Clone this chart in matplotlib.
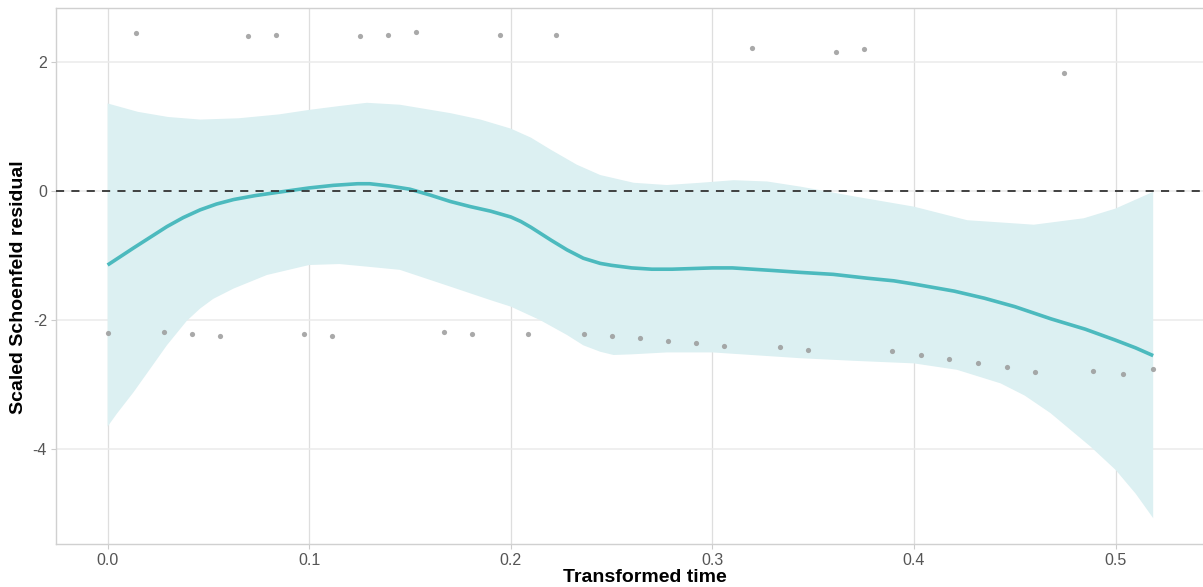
import matplotlib
matplotlib.use("Agg")
import matplotlib.pyplot as plt
import numpy as np

plt.rcParams['font.family'] = ['Liberation Sans', 'DejaVu Sans']

# residual points
pt_x = [0.0, 0.0140, 0.0278, 0.0418, 0.0557, 0.0696, 0.0835, 0.0974, 0.1113,
        0.1252, 0.1390, 0.1530, 0.1668, 0.1807, 0.1946, 0.2085, 0.2224, 0.2363,
        0.2502, 0.2641, 0.2780, 0.2919, 0.3058, 0.3197, 0.3336, 0.3475, 0.3614,
        0.3753, 0.3890, 0.4034, 0.4176, 0.4319, 0.4460, 0.4603, 0.4745, 0.4890,
        0.5038, 0.5187]
pt_y = [-2.21, 2.44, -2.20, -2.23, -2.26, 2.39, 2.41, -2.23, -2.26,
        2.39, 2.41, 2.45, -2.19, -2.22, 2.41, -2.22, 2.41, -2.22,
        -2.26, -2.29, -2.33, -2.37, -2.41, 2.21, -2.42, -2.47, 2.15,
        2.19, -2.49, -2.55, -2.61, -2.67, -2.74, -2.82, 1.82, -2.80,
        -2.84, -2.77]

# smooth fit
fit_x = [0.0, 0.0129, 0.0294, 0.0375, 0.0459, 0.054, 0.0625, 0.073, 0.084,
         0.1, 0.112, 0.124, 0.13, 0.14, 0.15, 0.16, 0.17, 0.18, 0.19, 0.2,
         0.205, 0.21, 0.22, 0.2279, 0.236, 0.2444, 0.25, 0.26, 0.27, 0.28,
         0.29, 0.3, 0.31, 0.32, 0.33, 0.344, 0.36, 0.377, 0.39, 0.4, 0.42,
         0.435, 0.45, 0.468, 0.485, 0.5, 0.51, 0.5187]
fit_y = [-1.155, -0.89, -0.56, -0.42, -0.30, -0.21, -0.14, -0.08, -0.03,
         0.04, 0.08, 0.105, 0.105, 0.07, 0.02, -0.07, -0.17, -0.25, -0.32, -0.41,
         -0.48, -0.57, -0.77, -0.92, -1.05, -1.13, -1.16, -1.20, -1.22, -1.22,
         -1.21, -1.20, -1.20, -1.22, -1.24, -1.27, -1.30, -1.36, -1.40, -1.45, -1.56,
         -1.67, -1.80, -1.99, -2.15, -2.32, -2.44, -2.56]

# confidence band
up_x = [0.0, 0.015, 0.03, 0.046, 0.065, 0.085, 0.1, 0.115, 0.1286, 0.145,
        0.17, 0.185, 0.2, 0.21, 0.22, 0.2328, 0.2444, 0.261, 0.2775, 0.294,
        0.3106, 0.3272, 0.3437, 0.372, 0.4, 0.4264, 0.4595, 0.4843, 0.5, 0.5187]
up_y = [1.35, 1.22, 1.14, 1.10, 1.12, 1.18, 1.25, 1.31, 1.36, 1.33,
        1.20, 1.10, 0.96, 0.82, 0.63, 0.40, 0.24, 0.12, 0.085, 0.12,
        0.16, 0.14, 0.06, -0.10, -0.25, -0.46, -0.53, -0.43, -0.28, -0.02]
lo_x = [0.0, 0.0046, 0.0128, 0.021, 0.0294, 0.0393, 0.0459, 0.0524, 0.0625,
        0.079, 0.1, 0.115, 0.1286, 0.145, 0.17, 0.19, 0.2, 0.2146, 0.2279,
        0.236, 0.2444, 0.251, 0.26, 0.2775, 0.3, 0.3437, 0.37, 0.4, 0.4214,
        0.443, 0.455, 0.4677, 0.4876, 0.5, 0.51, 0.5187]
lo_y = [-3.66, -3.46, -3.13, -2.77, -2.40, -2.02, -1.83, -1.68, -1.52,
        -1.31, -1.155, -1.14, -1.18, -1.23, -1.49, -1.70, -1.80, -2.01, -2.24,
        -2.40, -2.50, -2.55, -2.54, -2.51, -2.51, -2.60, -2.64, -2.68, -2.78,
        -2.99, -3.18, -3.45, -3.97, -4.33, -4.70, -5.08]

fig = plt.figure(figsize=(12.03, 5.87), dpi=100)
ax = fig.add_axes([56/1203, 42.7/587, 1 - 56/1203 + 0.002, (544.3 - 8.3)/587])

ax.fill(np.r_[up_x, lo_x[::-1]], np.r_[up_y, lo_y[::-1]],
        color='#dcf0f2', lw=0, zorder=1)
ax.plot(fit_x, fit_y, color='#4cbabe', lw=2.6, zorder=3,
        solid_capstyle='butt', solid_joinstyle='round')
ax.scatter(pt_x, pt_y, s=14, color='#9a9a9a', alpha=0.85, lw=0, zorder=4)
ax.axhline(0, color='#333333', lw=1.3, dashes=(4.5, 4), zorder=5)

ax.set_xlim(-0.0256, 0.5446)
ax.set_ylim(-5.485, 2.825)
ax.set_xticks([0.0, 0.1, 0.2, 0.3, 0.4, 0.5])
ax.set_xticklabels(['0.0', '0.1', '0.2', '0.3', '0.4', '0.5'])
ax.set_yticks([-4, -2, 0, 2])
ax.set_yticklabels(['-4', '-2', '0', '2'])

ax.grid(axis='x', color='#dedede', lw=0.9, zorder=0)
ax.grid(axis='y', color='#ebebeb', lw=1.1, zorder=0)
ax.set_axisbelow(True)

for s in ['left', 'bottom', 'top', 'right']:
    ax.spines[s].set_color('#d0d0d0')
    ax.spines[s].set_linewidth(1.0)

ax.tick_params(axis='both', length=3.5, width=0.8, color='#cccccc',
               labelsize=11.5, labelcolor='#555555', pad=3)

ax.set_xlabel('Transformed time', fontsize=14, fontweight='bold')
ax.set_ylabel('Scaled Schoenfeld residual', fontsize=14, fontweight='bold')
ax.xaxis.set_label_coords(0.512, -0.046)
ax.yaxis.set_label_coords(-0.025, 0.48)

plt.savefig('out.png', dpi=100)
